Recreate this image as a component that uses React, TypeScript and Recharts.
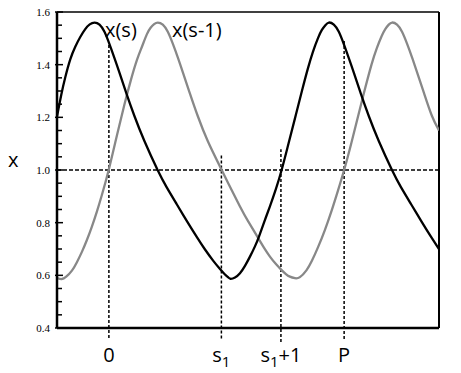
import React from 'react'
import { LineChart, Line, XAxis, YAxis, ReferenceLine } from 'recharts'

// x(s)
const blackS = [
  -0.821, -0.754, -0.69, -0.611, -0.532, -0.453, -0.374, -0.303, -0.227,
  -0.148, -0.07, 0.009, 0.088, 0.167, 0.278, 0.404, 0.562, 0.771, 0.913,
  1.074, 1.232, 1.39, 1.521, 1.652, 1.758, 1.837, 1.885, 1.924, 1.995,
  2.074, 2.153, 2.232, 2.311, 2.379, 2.461, 2.548, 2.643, 2.733, 2.833,
  2.943, 3.054, 3.148, 3.227, 3.307, 3.37, 3.425, 3.48, 3.559, 3.638,
  3.717, 3.796, 3.875, 3.986, 4.112, 4.27, 4.479, 4.621, 4.782, 4.94,
  5.098, 5.223,
]
const blackX = [
  1.203, 1.285, 1.352, 1.42, 1.468, 1.505, 1.535, 1.553, 1.56,
  1.552, 1.525, 1.478, 1.425, 1.37, 1.29, 1.205, 1.11, 1.0, 0.935,
  0.87, 0.807, 0.746, 0.698, 0.655, 0.624, 0.603, 0.593, 0.587, 0.592,
  0.608, 0.636, 0.671, 0.71, 0.75, 0.805, 0.862, 0.928, 1.0, 1.092,
  1.195, 1.3, 1.385, 1.448, 1.5, 1.532, 1.55, 1.56, 1.552, 1.525,
  1.478, 1.425, 1.37, 1.29, 1.205, 1.11, 1.0, 0.935, 0.87, 0.807,
  0.746, 0.7,
]

// x(s-1)
const grayS = [
  -0.821, -0.746, -0.675, -0.585, -0.506, -0.427, -0.348, -0.269, -0.19,
  -0.111, -0.003, 0.126, 0.242, 0.352, 0.447, 0.526, 0.6, 0.66, 0.716,
  0.774, 0.853, 0.932, 1.011, 1.09, 1.169, 1.28, 1.406, 1.564, 1.785,
  2.074, 2.216, 2.363, 2.453, 2.548, 2.643, 2.733, 2.801, 2.864, 2.943,
  3.022, 3.128, 3.212, 3.311, 3.417, 3.523, 3.622, 3.722, 3.812, 3.891,
  4.022, 4.155, 4.238, 4.313, 4.373, 4.428, 4.48, 4.559, 4.638, 4.717,
  4.796, 4.875, 4.986, 5.112, 5.223,
]
const grayX = [
  0.59, 0.586, 0.595, 0.618, 0.65, 0.689, 0.734, 0.785, 0.842,
  0.905, 1.0, 1.13, 1.245, 1.345, 1.42, 1.47, 1.515, 1.54, 1.554,
  1.56, 1.552, 1.525, 1.48, 1.428, 1.372, 1.292, 1.205, 1.11, 1.0,
  0.861, 0.8, 0.741, 0.705, 0.671, 0.643, 0.62, 0.605, 0.595, 0.589,
  0.593, 0.62, 0.655, 0.708, 0.772, 0.845, 0.92, 1.0, 1.08, 1.155,
  1.28, 1.4, 1.462, 1.507, 1.535, 1.552, 1.56, 1.552, 1.525, 1.48,
  1.428, 1.372, 1.292, 1.205, 1.15,
]

const xTicks = [0, 1.78, 2.722, 3.722]
const xTickMain = ['0', 's', 's', 'P']
const xTickSub = ['', '1', '1', '']
const xTickTail = ['', '', '+1', '']

// where the dotted guides stop
const guideTop = [1.48, 1.057, 1.079, 1.496]
const guideBottom = [0.362, 0.36, 0.347, 0.358]

const yMajor = [0.4, 0.6, 0.8, 1.0, 1.2, 1.4, 1.6]
const yTicks = [
  0.4, 0.45, 0.5, 0.55, 0.6, 0.65, 0.7, 0.75, 0.8, 0.85, 0.9, 0.95, 1.0, 1.05,
  1.1, 1.15, 1.2, 1.25, 1.3, 1.35, 1.4, 1.45, 1.5, 1.55, 1.6,
]

const xMin = -0.821
const xMax = 5.223

const blackData = blackS.map((s, i) => ({ s, v: blackX[i] }))
const grayData = grayS.map((s, i) => ({ s, v: grayX[i] }))

const sans = '"Open Sans", sans-serif'

function YTick(props: any) {
  const { x, y, payload } = props
  const major = yMajor.some((m) => Math.abs(m - payload.value) < 1e-6)
  return (
    <g>
      <line
        x1={major ? x - 2 : x}
        x2={major ? x + 6 : x + 5}
        y1={y}
        y2={y}
        stroke="#000"
        strokeWidth={1.5}
      />
      {major && (
        <text
          x={x - 7}
          y={y + 4}
          textAnchor="end"
          fontFamily='"Liberation Serif", serif'
          fontSize={11}
          fill="#000"
        >
          {payload.value.toFixed(1)}
        </text>
      )}
    </g>
  )
}

function XTick(props: any) {
  const { x, y, payload } = props
  const i = xTicks.indexOf(payload.value)
  if (i < 0) return null
  return (
    <text x={x} y={y + 34} textAnchor="middle" fontFamily={sans} fontSize={20} fill="#000">
      {xTickMain[i]}
      {xTickSub[i] && (
        <tspan fontSize={15} dy={5}>
          {xTickSub[i]}
        </tspan>
      )}
      {xTickTail[i] && <tspan dy={-5}>{xTickTail[i]}</tspan>}
    </text>
  )
}

export default function App() {
  return (
    <div style={{ position: 'absolute', left: 0, top: 0, width: 461, height: 373, background: '#fff' }}>
      <LineChart width={461} height={373} margin={{ top: 12, right: 22, left: 0, bottom: 0 }}>
        <XAxis
          type="number"
          dataKey="s"
          domain={[xMin, xMax]}
          allowDataOverflow
          ticks={xTicks}
          interval={0}
          tickSize={0}
          tickMargin={0}
          tick={<XTick />}
          height={45}
          axisLine={{ stroke: '#000', strokeWidth: 2.5 }}
        />
        <YAxis
          type="number"
          domain={[0.4, 1.6]}
          allowDataOverflow
          ticks={yTicks}
          interval={0}
          tickSize={0}
          tickMargin={0}
          tick={<YTick />}
          width={57}
          axisLine={{ stroke: '#000', strokeWidth: 2.5 }}
        />
        <ReferenceLine y={1.6} stroke="#000" strokeWidth={1.5} />
        <ReferenceLine x={xMax} stroke="#000" strokeWidth={2} />
        <ReferenceLine y={1} stroke="#000" strokeWidth={1.5} strokeDasharray="4 2" />
        {xTicks.map((t, i) => (
          <ReferenceLine
            key={i}
            ifOverflow="visible"
            segment={[
              { x: t, y: guideBottom[i] },
              { x: t, y: guideTop[i] },
            ]}
            stroke="#000"
            strokeWidth={1.5}
            strokeDasharray="3 2"
          />
        ))}
        <Line
          data={grayData}
          dataKey="v"
          type="natural"
          stroke="#888"
          strokeWidth={2.3}
          dot={false}
          isAnimationActive={false}
        />
        <Line
          data={blackData}
          dataKey="v"
          type="natural"
          stroke="#000"
          strokeWidth={2.3}
          dot={false}
          isAnimationActive={false}
        />
      </LineChart>
      <svg
        width={461}
        height={373}
        style={{ position: 'absolute', left: 0, top: 0, pointerEvents: 'none' }}
      >
        <text x={105} y={37} fontFamily={sans} fontSize={20} fill="#000">
          x(s)
        </text>
        <text x={172} y={37} fontFamily={sans} fontSize={20} fill="#000">
          x(s-1)
        </text>
        <text x={8} y={167} fontFamily={sans} fontSize={20} fill="#000">
          x
        </text>
      </svg>
    </div>
  )
}
